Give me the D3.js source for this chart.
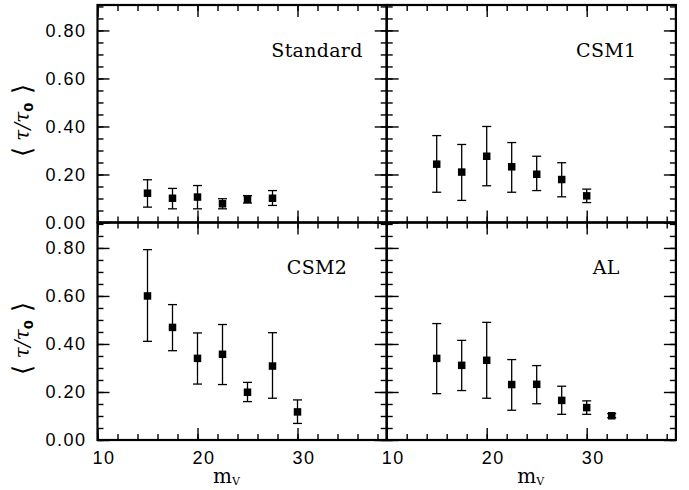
<!DOCTYPE html>
<html>
<head>
<meta charset="utf-8">
<script src="https://cdn.jsdelivr.net/npm/d3@7"></script>
<style>
  body { margin: 0; background: #fff; }
  .tick-lab text { font-family: "Liberation Sans", Arial, sans-serif; font-size: 18px; letter-spacing: 1.5px; fill: #000; }
  .panel-name { font-family: "DejaVu Serif", serif; font-size: 19px; letter-spacing: 0.3px; fill: #000; }
  .ax-title { font-family: "DejaVu Serif", serif; fill: #000; }
</style>
</head>
<body>
<div id="chart"></div>
<script>
// Data
const mV = [15, 17.5, 20, 22.5, 25, 27.5, 30, 32.5];

const standardMean = [0.122, 0.101, 0.106, 0.078, 0.097, 0.101];
const standardLow  = [0.064, 0.057, 0.057, 0.057, 0.081, 0.071];
const standardHigh = [0.178, 0.142, 0.154, 0.099, 0.112, 0.133];

const csm1Mean = [0.243, 0.210, 0.276, 0.232, 0.201, 0.179, 0.111];
const csm1Low  = [0.126, 0.092, 0.153, 0.126, 0.133, 0.107, 0.083];
const csm1High = [0.362, 0.325, 0.400, 0.333, 0.276, 0.249, 0.139];

const csm2Mean = [0.600, 0.469, 0.340, 0.357, 0.199, 0.308, 0.117];
const csm2Low  = [0.411, 0.372, 0.233, 0.231, 0.160, 0.174, 0.069];
const csm2High = [0.793, 0.564, 0.446, 0.481, 0.240, 0.447, 0.167];

const alMean = [0.340, 0.311, 0.332, 0.231, 0.232, 0.165, 0.135, 0.101];
const alLow  = [0.193, 0.206, 0.174, 0.124, 0.151, 0.107, 0.107, 0.093];
const alHigh = [0.485, 0.415, 0.490, 0.335, 0.310, 0.224, 0.163, 0.110];

const panelNames = ['Standard', 'CSM1', 'CSM2', 'AL'];
const xMajorTicks = [10, 20, 30];
const yMajorTicks = [0, 0.2, 0.4, 0.6, 0.8];

// build rows for each panel
function rows(mean, low, high){
    return mean.map((m, i) => ({x: mV[i], y: m, lo: low[i], hi: high[i]}));
}
const panels = [
    {name: panelNames[0], data: rows(standardMean, standardLow, standardHigh), col: 0, row: 0},
    {name: panelNames[1], data: rows(csm1Mean, csm1Low, csm1High), col: 1, row: 0},
    {name: panelNames[2], data: rows(csm2Mean, csm2Low, csm2High), col: 0, row: 1},
    {name: panelNames[3], data: rows(alMean, alLow, alHigh), col: 1, row: 1}
];

// Layout
const W = 689, H = 490;
const margin = {left: 97.5, top: 5};
const pw = 289.2, ph = 217.5;

const xScale = d3.scaleLinear([10, 38.92], [0, pw]);
const yScale = d3.scaleLinear([0, 0.906], [ph, 0]);

const svg = d3.select('#chart')
    .append('svg')
    .attr('width', W)
    .attr('height', H);

const fmt = d3.format('.2f');
const xMinor = d3.range(10, 39, 2);
const yMinor = d3.range(0, 0.906, 0.05);

panels.forEach(p => {
    const g = svg.append('g')
        .attr('transform', `translate(${margin.left + p.col * pw}, ${margin.top + p.row * ph})`);

    // inward ticks on all four sides
    const tickSets = [
        [d3.axisBottom(xScale), `translate(0, ${ph})`, xMajorTicks, xMinor],
        [d3.axisTop(xScale), 'translate(0, 0)', xMajorTicks, xMinor],
        [d3.axisLeft(yScale), 'translate(0, 0)', yMajorTicks, yMinor],
        [d3.axisRight(yScale), `translate(${pw}, 0)`, yMajorTicks, yMinor]
    ];
    tickSets.forEach(([ax, tr, major, minor]) => {
        [[minor, -6], [major, -12]].forEach(([vals, size]) => {
            const a = g.append('g')
                .attr('transform', tr)
                .call(ax.tickValues(vals).tickSize(size).tickFormat(''));
            a.select('.domain').remove();
            a.selectAll('line').attr('stroke', '#000').attr('stroke-width', 1.4);
        });
    });

    // y tick labels on the left column
    if (p.col === 0) {
        const yl = g.append('g')
            .attr('class', 'tick-lab')
            .call(d3.axisLeft(yScale).tickValues(yMajorTicks).tickSize(0).tickPadding(11).tickFormat(fmt));
        yl.select('.domain').remove();
    }
    // x tick labels on the bottom row
    if (p.row === 1) {
        const xl = g.append('g')
            .attr('class', 'tick-lab')
            .attr('transform', `translate(0, ${ph})`)
            .call(d3.axisBottom(xScale).tickValues(xMajorTicks).tickSize(0).tickPadding(11).tickFormat(d3.format('d')));
        xl.select('.domain').remove();
        xl.selectAll('text').attr('dx', 6);
    }

    // error bars
    const cap = 4.5;
    const eb = g.selectAll('.eb')
        .data(p.data)
        .enter()
        .append('g')
        .attr('class', 'eb')
        .attr('stroke', '#000')
        .attr('stroke-width', 1.3);
    eb.append('line')
        .attr('x1', d => xScale(d.x)).attr('x2', d => xScale(d.x))
        .attr('y1', d => yScale(d.lo)).attr('y2', d => yScale(d.hi));
    eb.append('line')
        .attr('x1', d => xScale(d.x) - cap).attr('x2', d => xScale(d.x) + cap)
        .attr('y1', d => yScale(d.hi)).attr('y2', d => yScale(d.hi));
    eb.append('line')
        .attr('x1', d => xScale(d.x) - cap).attr('x2', d => xScale(d.x) + cap)
        .attr('y1', d => yScale(d.lo)).attr('y2', d => yScale(d.lo));

    // square markers
    const ms = 7.5;
    g.selectAll('.pt')
        .data(p.data)
        .enter()
        .append('rect')
        .attr('class', 'pt')
        .attr('x', d => xScale(d.x) - ms / 2)
        .attr('y', d => yScale(d.y) - ms / 2)
        .attr('width', ms)
        .attr('height', ms)
        .attr('fill', '#000');

    // panel name
    g.append('text')
        .attr('class', 'panel-name')
        .attr('x', xScale(31.95))
        .attr('y', yScale(0.69))
        .attr('text-anchor', 'middle')
        .text(p.name);

    // frame
    g.append('rect')
        .attr('width', pw)
        .attr('height', ph)
        .attr('fill', 'none')
        .attr('stroke', '#000')
        .attr('stroke-width', 2.2);

    // axis titles
    if (p.col === 0) {
        const yt = g.append('text')
            .attr('class', 'ax-title')
            .attr('transform', `translate(${-69}, ${ph / 2 + 7}) rotate(-90)`)
            .attr('text-anchor', 'middle')
            .style('font-size', '20px');
        yt.append('tspan').text('\u27E8').style('font-family', 'DejaVu Sans').style('font-weight', '300').style('font-size', '26px').attr('dy', 2);
        yt.append('tspan').text(' \u03C4/\u03C4').style('font-style', 'italic').attr('dy', -2);
        yt.append('tspan').text('0').attr('dy', 4).style('font-size', '13px').style('font-family', 'DejaVu Sans').style('font-weight', 'bold');
        yt.append('tspan').text(' \u27E9').attr('dy', -2).style('font-family', 'DejaVu Sans').style('font-weight', '300').style('font-size', '26px');
    }
    if (p.row === 1) {
        const xt = g.append('text')
            .attr('class', 'ax-title')
            .attr('transform', `translate(${p.col === 0 ? 129 : 144}, ${ph + 43})`)
            .attr('text-anchor', 'middle')
            .style('font-size', '20px');
        xt.append('tspan').text('m');
        xt.append('tspan').text('V').attr('dy', 2).style('font-size', '11px');
    }
});
</script>
</body>
</html>
